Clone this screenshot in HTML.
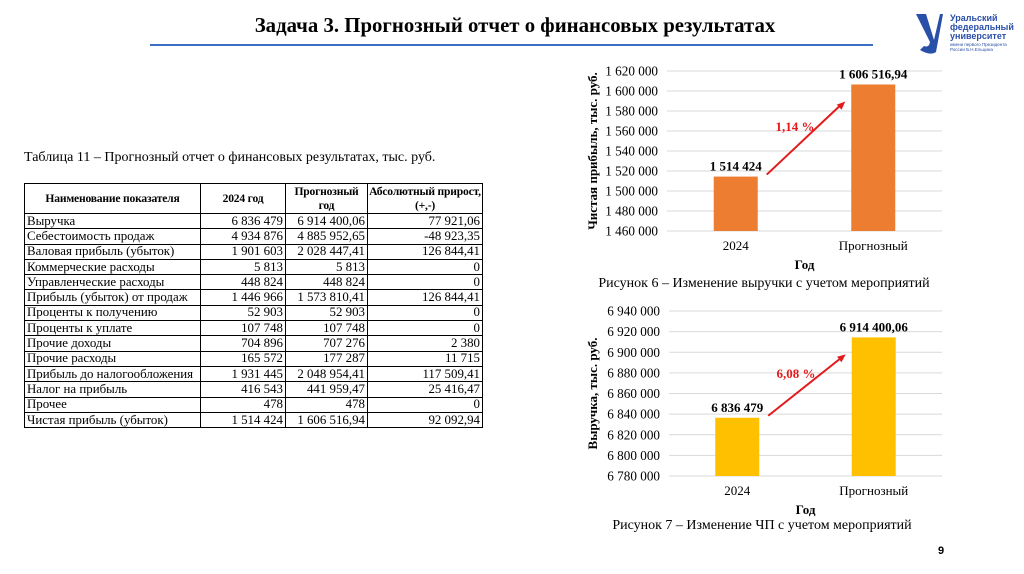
<!DOCTYPE html>
<html><head><meta charset="utf-8"><style>
body{margin:0;width:1024px;height:574px;background:#fff;position:relative;overflow:hidden;font-family:"Liberation Serif",serif;}
.abs{position:absolute;}
table{border-collapse:collapse;font-size:12.9px;table-layout:fixed;}
td{border:1px solid #000;padding:0 2px;height:14.3px;line-height:13px;white-space:nowrap;overflow:hidden;}
td.n{text-align:right;}
th{border:1px solid #000;font-size:11.6px;font-weight:bold;line-height:14px;padding:0 1px;height:29px;white-space:nowrap;letter-spacing:-0.2px;}
</style></head><body>
<div class="abs" style="left:0;width:1030px;top:14px;text-align:center;font-size:20.8px;font-weight:bold;">Задача 3. Прогнозный отчет о финансовых результатах</div>
<div class="abs" style="left:150px;top:44px;width:723px;height:2px;background:#3a6fc4;"></div>
<div class="abs" style="left:912px;top:10px;width:110px;height:50px;">
<svg width="30" height="44" viewBox="0 0 30 44" style="position:absolute;left:2px;top:2px"><path d="M2 2 L12 2 L20 28 L26 2 L29 2 L22 40 Q16 44 6 38 L10 34 Q15 36 16 30 Z" fill="#2a4fa8"/></svg>
<div style="position:absolute;left:38px;top:4px;font-family:'Liberation Sans',sans-serif;font-weight:bold;font-size:9px;line-height:9px;color:#2a4fa8">Уральский<br>федеральный<br>университет</div>
<div style="position:absolute;left:38px;top:32px;font-family:'Liberation Sans',sans-serif;font-size:4.5px;line-height:5px;color:#2a4fa8">имени первого Президента<br>России Б.Н.Ельцина</div>
</div>
<div class="abs" style="left:24px;top:150px;font-size:14px;">Таблица 11 – Прогнозный отчет о финансовых результатах, тыс. руб.</div>
<table class="abs" style="left:24px;top:183px;width:458px;">
<colgroup><col style="width:176px"><col style="width:85px"><col style="width:82px"><col style="width:115px"></colgroup>
<tr><th>Наименование показателя</th><th>2024 год</th><th>Прогнозный<br>год</th><th>Абсолютный прирост,<br>(+,-)</th></tr>
<tr><td>Выручка</td><td class="n">6 836 479</td><td class="n">6 914 400,06</td><td class="n">77 921,06</td></tr>
<tr><td>Себестоимость продаж</td><td class="n">4 934 876</td><td class="n">4 885 952,65</td><td class="n">-48 923,35</td></tr>
<tr><td>Валовая прибыль (убыток)</td><td class="n">1 901 603</td><td class="n">2 028 447,41</td><td class="n">126 844,41</td></tr>
<tr><td>Коммерческие расходы</td><td class="n">5 813</td><td class="n">5 813</td><td class="n">0</td></tr>
<tr><td>Управленческие расходы</td><td class="n">448 824</td><td class="n">448 824</td><td class="n">0</td></tr>
<tr><td>Прибыль (убыток) от продаж</td><td class="n">1 446 966</td><td class="n">1 573 810,41</td><td class="n">126 844,41</td></tr>
<tr><td>Проценты к получению</td><td class="n">52 903</td><td class="n">52 903</td><td class="n">0</td></tr>
<tr><td>Проценты к уплате</td><td class="n">107 748</td><td class="n">107 748</td><td class="n">0</td></tr>
<tr><td>Прочие доходы</td><td class="n">704 896</td><td class="n">707 276</td><td class="n">2 380</td></tr>
<tr><td>Прочие расходы</td><td class="n">165 572</td><td class="n">177 287</td><td class="n">11 715</td></tr>
<tr><td>Прибыль до налогообложения</td><td class="n">1 931 445</td><td class="n">2 048 954,41</td><td class="n">117 509,41</td></tr>
<tr><td>Налог на прибыль</td><td class="n">416 543</td><td class="n">441 959,47</td><td class="n">25 416,47</td></tr>
<tr><td>Прочее</td><td class="n">478</td><td class="n">478</td><td class="n">0</td></tr>
<tr><td>Чистая прибыль (убыток)</td><td class="n">1 514 424</td><td class="n">1 606 516,94</td><td class="n">92 092,94</td></tr>
</table>
<svg class="abs" id="charts" style="left:0;top:0" width="1024" height="574"></svg>
<div class="abs" style="left:938px;top:545px;font-family:'Liberation Sans',sans-serif;font-size:11px;font-weight:bold;">9</div>
<script>
const categories = ["2024","Прогнозный"];
const profitValues = [1514424, 1606516.94];
const profitLabels = ["1 514 424","1 606 516,94"];
const profitTicks = [1460000,1480000,1500000,1520000,1540000,1560000,1580000,1600000,1620000];
const revenueValues = [6836479, 6914400.06];
const revenueLabels = ["6 836 479","6 914 400,06"];
const revenueTicks = [6780000,6800000,6820000,6840000,6860000,6880000,6900000,6920000,6940000];
const svg = document.getElementById('charts');
const NS = 'http://www.w3.org/2000/svg';
function mk(tag, attrs, text){const e=document.createElementNS(NS,tag);for(const k in attrs)e.setAttribute(k,attrs[k]);if(text!==undefined)e.textContent=text;svg.appendChild(e);return e;}
function fmt(v){return v.toString().replace(/\B(?=(\d{3})+(?!\d))/g,' ');}
function chart(cfg){
  const ticks=cfg.ticks, min=ticks[0], max=ticks[ticks.length-1];
  const y=v=>cfg.bottom-(v-min)/(max-min)*(cfg.bottom-cfg.top);
  const slot=(cfg.right-cfg.left)/categories.length;
  const x=i=>cfg.left+slot*(i+0.5);
  ticks.forEach(t=>{
    const g=mk('line',{x1:cfg.left,x2:cfg.right,y1:y(t),y2:y(t),stroke:'#d9d9d9','stroke-width':1});
    
    
    const l=mk('text',{x:cfg.left-9,y:y(t)+4.5,'text-anchor':'end','font-size':13.2,'font-family':'Liberation Serif'},fmt(t));
    
    
  });
  const bw=44;
  cfg.values.forEach((v,i)=>{
    const r=mk('rect',{x:x(i)-bw/2,y:y(v),width:bw,height:cfg.bottom-y(v),fill:cfg.color});
    
    
    const t=mk('text',{x:x(i),y:y(v)-6,'text-anchor':'middle','font-size':13,'font-weight':'bold','font-family':'Liberation Serif'},cfg.labels[i]);
    
    
    const c=mk('text',{x:x(i),y:cfg.bottom+19,'text-anchor':'middle','font-size':13,'font-family':'Liberation Serif'},categories[i]);
    
    
  });
  const at=mk('text',{x:(cfg.left+cfg.right)/2,y:cfg.bottom+38,'text-anchor':'middle','font-size':13,'font-weight':'bold','font-family':'Liberation Serif'},'Год');
  
  
  const yt=mk('text',{x:0,y:0,transform:`translate(${cfg.ytx},${(cfg.top+cfg.bottom)/2}) rotate(-90)`,'text-anchor':'middle','font-size':13,'font-weight':'bold','font-family':'Liberation Serif'},cfg.ytitle);
  
  
  const x1=x(0)+bw/2+9, y1=y(cfg.values[0])-2, x2=x(1)-bw/2-6, y2=y(cfg.values[1])+17;
  const ar=mk('line',{x1:x1,y1:y1,x2:x2-4,y2:y2+3,stroke:'#e31a1c','stroke-width':2});
  
  
  const ang=Math.atan2(y2-y1,x2-x1);
  const hx=x2,hy=y2,s=9;
  const p=mk('polygon',{points:`${hx},${hy} ${hx-s*Math.cos(ang-0.4)},${hy-s*Math.sin(ang-0.4)} ${hx-s*Math.cos(ang+0.4)},${hy-s*Math.sin(ang+0.4)}`,fill:'#e31a1c'});
  
  
  const pt=mk('text',{x:(x1+x2)/2-11,y:(y1+y2)/2-7,'text-anchor':'middle','font-size':13,'font-weight':'bold',fill:'#e31a1c','font-family':'Liberation Serif'},cfg.pct);
  
  
  const cap=mk('text',{x:cfg.capx,y:cfg.capy,'text-anchor':'middle','font-size':14,'font-family':'Liberation Serif'},cfg.caption);
  
  
}
chart({left:667,right:942,top:71,bottom:231,ticks:profitTicks,values:profitValues,labels:profitLabels,color:'#ed7d31',ytitle:'Чистая прибыль, тыс. руб.',ytx:597,pct:'1,14 %',caption:'Рисунок 6 – Изменение выручки с учетом мероприятий',capx:764,capy:287});
chart({left:669,right:942,top:311,bottom:476,ticks:revenueTicks,values:revenueValues,labels:revenueLabels,color:'#ffc000',ytitle:'Выручка, тыс. руб.',ytx:597,pct:'6,08 %',caption:'Рисунок 7 – Изменение ЧП с учетом мероприятий',capx:762,capy:529});
</script>
</body></html>
